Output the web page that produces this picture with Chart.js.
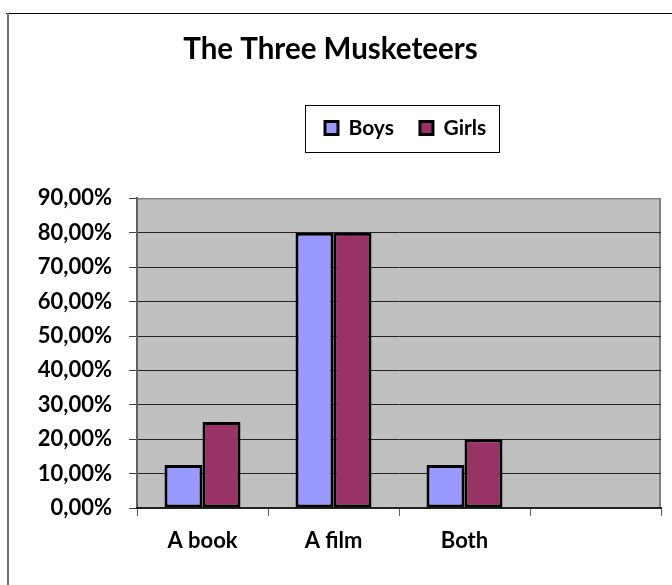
<!DOCTYPE html>
<html>
<head>
<meta charset="utf-8">
<script src="https://cdn.jsdelivr.net/npm/chart.js@4"></script>
<style>
  body { margin: 0; background: #fff; }
</style>
</head>
<body>
<canvas id="myChart" width="672" height="585"></canvas>
<script>
const categories = ['A book', 'A film', 'Both', ''];
const boys = [12.5, 80, 12.5, null];
const girls = [25, 80, 20, null];
const yMax = 90;
const yStep = 10;

// gray plot area, outer border and legend frame (Excel look)
const frame = {
    id: 'frame',
    beforeDraw(chart) {
        const {ctx, chartArea: a} = chart;
        const lg = chart.legend;
        const boxes = lg.legendHitBoxes;
        // legend sits right of center in the original
        const dx = 325 - boxes[0].left;
        lg.left += dx;
        lg.right += dx;
        boxes.forEach(b => b.left += dx);

        ctx.save();
        ctx.fillStyle = '#C0C0C0';
        ctx.fillRect(a.left, a.top, a.right - a.left, a.bottom - a.top);
        ctx.strokeStyle = '#808080';
        ctx.lineWidth = 1;
        ctx.beginPath();
        ctx.moveTo(a.left, a.top + 0.5);
        ctx.lineTo(a.right - 1, a.top + 0.5);
        ctx.stroke();
        ctx.lineWidth = 2;
        ctx.beginPath();
        ctx.moveTo(a.right - 1, a.top);
        ctx.lineTo(a.right - 1, a.bottom);
        ctx.stroke();

        // page border: black top, gray left
        ctx.lineWidth = 1;
        ctx.strokeStyle = '#000';
        ctx.beginPath();
        ctx.moveTo(6, 13.5);
        ctx.lineTo(672, 13.5);
        ctx.stroke();
        ctx.lineWidth = 2;
        ctx.strokeStyle = '#707070';
        ctx.beginPath();
        ctx.moveTo(8, 13);
        ctx.lineTo(8, 585);
        ctx.stroke();

        ctx.lineWidth = 1;
        ctx.strokeStyle = '#000';
        const first = boxes[0], last = boxes[boxes.length - 1];
        const cy = first.top + first.height / 2;
        const x0 = Math.round(first.left - 20) + 0.5;
        const x1 = Math.round(last.left + last.width + 13) + 0.5;
        ctx.strokeRect(x0, Math.round(cy - 23) + 0.5, x1 - x0, 47);
        ctx.restore();
    }
};

function draw() {
    Chart.defaults.font.family = 'Lato';
    Chart.defaults.color = '#000';
    const ctx = document.getElementById('myChart').getContext('2d');
    new Chart(ctx, {
        type: 'bar',
        data: {
            labels: categories,
            datasets: [{
                label: 'Boys',
                data: boys,
                backgroundColor: '#9999FF',
                borderColor: '#000',
                borderWidth: 3,
                borderSkipped: false,
                categoryPercentage: 0.58,
                barPercentage: 1
            }, {
                label: 'Girls',
                data: girls,
                backgroundColor: '#993366',
                borderColor: '#000',
                borderWidth: 3,
                borderSkipped: false,
                categoryPercentage: 0.58,
                barPercentage: 1
            }]
        },
        options: {
            responsive: false,
            animation: false,
            layout: { padding: { left: 0, right: 11, top: 0, bottom: 0 } },
            plugins: {
                title: {
                    display: true,
                    text: 'The Three Musketeers',
                    color: '#000',
                    font: { size: 29.5, weight: 'bold' },
                    padding: { top: 32, bottom: 24 }
                },
                subtitle: {
                    // empty spacer between legend and plot
                    display: true,
                    text: ' ',
                    weight: 500,
                    font: { size: 10 },
                    padding: { top: 0, bottom: 38 }
                },
                legend: {
                    labels: {
                        color: '#000',
                        font: { size: 21, weight: 'bold' },
                        boxWidth: 13,
                        boxHeight: 13,
                        padding: 26
                    }
                },
                tooltip: { enabled: false }
            },
            scales: {
                y: {
                    min: 0,
                    max: yMax,
                    ticks: {
                        stepSize: yStep,
                        padding: 17,
                        color: '#000',
                        font: { size: 22, weight: 'bold' },
                        callback: v => v.toFixed(2).replace('.', ',') + '%'
                    },
                    grid: {
                        color: c => c.tick && c.tick.value === yMax ? '#808080' : '#222',
                        tickColor: '#404040',
                        tickLength: 8
                    },
                    border: { color: '#606060', width: 2 },
                    afterFit: s => { s.width = 137; }
                },
                x: {
                    ticks: {
                        padding: 12,
                        color: '#000',
                        font: { size: 22, weight: 'bold' }
                    },
                    grid: {
                        drawOnChartArea: false,
                        offset: true,
                        tickLength: 8,
                        color: '#606060'
                    },
                    border: { color: '#222', width: 2 },
                    afterFit: s => { s.height = 77; }
                }
            }
        },
        plugins: [frame]
    });
}

document.fonts.load('bold 20px Lato').then(draw, draw);
</script>
</body>
</html>
